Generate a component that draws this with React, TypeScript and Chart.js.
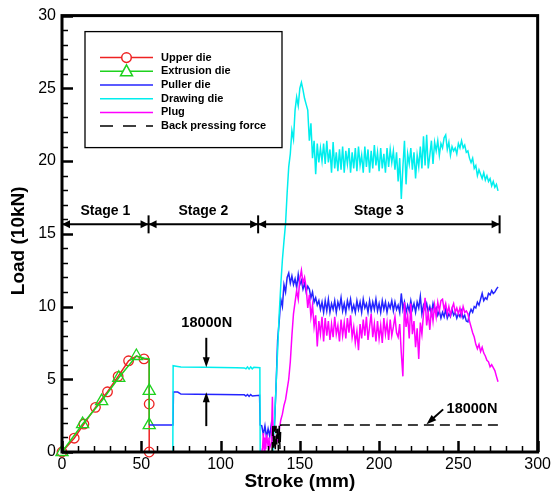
import React, { useEffect, useRef } from 'react';
import { Chart, registerables } from 'chart.js';

Chart.register(...registerables);

const FONT = "'Liberation Sans', Arial, Helvetica, sans-serif";

// ---------- series names ----------
const seriesNames = ['Upper die', 'Extrusion die', 'Puller die', 'Drawing die', 'Plug', 'Back pressing force'];
const seriesColors = ['#ee2222', '#1ed21e', '#2424ff', '#00eeee', '#ff00ff', '#000000'];

// ---------- Upper die (stage 1) ----------
const upperStroke = [0, 7.7, 13.8, 21.1, 28.7, 35.4, 42.0, 47.0, 51.7, 55.0, 55.0, 55.0];
const upperLoad = [0, 0.95, 1.92, 3.07, 4.14, 5.2, 6.27, 6.6, 6.4, 6.35, 3.3, 0];
const upperMarked = [1, 1, 1, 1, 1, 1, 1, 0, 1, 0, 1, 1];

// ---------- Extrusion die (stage 1) ----------
const extrStroke = [0, 13.0, 25.0, 35.8, 46.9, 52.0, 55.0, 55.0, 55.0];
const extrLoad = [0, 1.92, 3.5, 5.1, 6.6, 6.45, 6.4, 4.2, 1.85];
const extrMarked = [1, 1, 1, 1, 1, 0, 0, 1, 1];

// ---------- Puller die, stages 1-2 ----------
const pullerStroke = [55, 70, 70.3, 73, 75, 85, 100, 112, 115, 116, 117, 118, 119, 120, 124.6, 125, 126, 127, 128, 129, 130, 131, 132, 133, 134, 135];
const pullerLoad = [1.85, 1.85, 4.12, 4.12, 3.98, 3.97, 3.95, 3.93, 3.93, 3.85, 3.95, 3.82, 3.95, 3.85, 3.9, 1.85, 1.8, 1.2, 1.8, 1.0, 1.6, 1.1, 1.9, 1.3, 1.8, 4.5];

// ---------- Drawing die, stages 1-2 ----------
const drawingStroke = [69.9, 70.1, 72, 75, 90, 110, 115, 116, 117, 118, 119, 120, 121, 124.8, 125, 133, 134, 135];
const drawingLoad = [0, 5.93, 5.9, 5.85, 5.82, 5.8, 5.78, 5.72, 5.85, 5.7, 5.85, 5.72, 5.83, 5.8, 0, 0, 2.0, 4.5];

// ---------- Plug, start of stage 3 ----------
const plugStroke = [126, 126.5, 127, 127.5, 128, 128.5, 129, 130, 130.5, 131, 132, 132.7, 133.2, 134, 135];
const plugLoad = [0, 0.3, 1.3, 0.1, 1.0, 0.2, 1.2, 0.4, 1.0, 0.3, 0.6, 3.8, 0.5, 1.0, 0.6];

// ---------- Stage 3 readings, one per mm of stroke from 136 mm to 275 mm ----------
const stage3FirstStroke = 136;
const pullerStage3 = [
  7.7, 9.0, 10.5, 10.0, 11.5, 11.0, 12.0, 12.3, 11.6, 12.1,
  11.5, 11.9, 11.3, 12.2, 11.5, 11.8, 11.2, 11.6, 11.0, 11.4,
  11.2, 10.6, 11.0, 10.3, 10.6, 10.1, 10.4, 9.8, 10.3, 9.6,
  10.4, 9.7, 10.5, 9.6, 10.2, 9.8, 10.4, 9.6, 10.3, 9.9,
  10.6, 9.7, 10.2, 9.6, 10.4, 9.9, 10.5, 9.7, 10.1, 9.6,
  10.4, 9.8, 10.3, 9.6, 10.5, 9.9, 10.2, 9.6, 10.4, 9.7,
  10.3, 9.8, 10.5, 9.7, 10.2, 9.6, 10.4, 9.8, 10.3, 9.6,
  10.2, 9.9, 10.4, 9.7, 10.3, 9.8, 10.1, 9.6, 10.9, 9.8,
  10.3, 9.6, 10.1, 9.7, 10.4, 9.8, 10.2, 9.6, 10.3, 9.9,
  10.7, 9.5, 10.1, 9.8, 10.2, 9.6, 10.0, 9.5, 10.2, 9.7,
  9.9, 9.4, 9.7, 9.2, 9.6, 9.3, 9.8, 9.2, 9.5, 9.3,
  9.8, 9.4, 9.6, 9.2, 9.5, 9.3, 9.7, 9.2, 9.4, 9.0,
  8.95, 9.5, 9.8, 9.6, 10.0, 9.9, 10.3, 10.1, 10.5, 10.9,
  10.4, 10.6, 10.5, 10.9, 10.8, 11.1, 10.9, 11.0, 11.2, 11.35,
];
const drawingStage3 = [
  7.0, 9.5, 11.5, 13.2, 14.5, 15.7, 17.8, 19.6, 20.5, 22.1,
  21.5, 23.5, 24.4, 23.8, 25.0, 25.4, 24.9, 24.3, 23.9, 23.5,
  21.4, 22.6, 20.2, 21.4, 19.1, 21.2, 19.9, 20.9, 20.0, 21.2,
  19.8, 21.4, 19.9, 20.8, 19.2, 21.3, 19.5, 20.6, 19.3, 20.8,
  19.4, 21.0, 19.2, 20.7, 19.8, 20.9, 19.2, 20.6, 19.5, 20.9,
  19.3, 21.0, 19.7, 20.4, 19.2, 21.0, 19.6, 20.8, 19.2, 20.7,
  19.5, 21.1, 19.7, 20.6, 19.3, 20.9, 19.5, 20.5, 19.2, 20.9,
  19.6, 20.8, 19.9, 20.7, 19.4, 20.6, 18.6, 20.2, 17.4, 19.6,
  21.4, 18.4, 20.5, 19.8, 20.9, 19.4, 20.6, 18.8, 20.4, 19.6,
  21.0, 19.5, 21.7, 19.7, 21.8, 19.5, 20.4, 21.4, 19.8, 21.3,
  20.7, 21.4, 20.4, 21.2, 20.9, 21.6, 21.8, 20.8, 21.3, 20.4,
  21.0, 20.7, 20.9, 20.5, 21.2, 20.9, 21.4, 20.9, 21.1, 20.6,
  20.7, 20.2, 19.9, 20.2, 19.5, 19.7, 19.0, 19.4, 19.1, 18.8,
  19.2, 18.7, 19.0, 18.6, 18.8, 18.3, 18.6, 18.2, 18.4, 17.95,
];
const plugStage3 = [
  0.8, 1.5, 2.2, 2.6, 3.2, 3.6, 4.3, 5.0, 6.2, 8.0,
  9.5, 10.3, 11.1, 10.5, 11.9, 12.5, 11.6, 12.0, 11.3, 9.9,
  10.8, 9.3, 10.1, 8.6, 9.4, 7.25, 9.0, 8.1, 9.3, 7.6,
  9.2, 8.0, 9.0, 7.7, 8.8, 7.9, 9.3, 8.1, 8.7, 7.6,
  9.1, 8.0, 8.9, 7.8, 9.2, 8.2, 9.4, 7.9, 8.6, 7.5,
  8.3, 7.0, 8.8, 7.8, 9.1, 8.0, 9.3, 7.7, 8.6, 9.5,
  7.9, 8.8, 7.6, 9.0, 7.8, 8.7, 7.5, 9.2, 8.1, 8.9,
  7.7, 9.1, 8.0, 8.6, 9.3, 8.2, 7.9, 8.8, 6.8, 5.2,
  10.3, 8.6, 9.4, 7.8, 10.2, 8.1, 9.0, 7.2, 8.5, 6.4,
  8.9, 8.1, 9.5, 10.6, 8.7, 9.6, 8.4, 9.9, 9.0, 10.1,
  9.3, 10.3, 9.7, 10.4, 10.5, 9.8, 10.2, 9.5, 10.0, 9.4,
  9.9, 10.2, 9.6, 9.9, 9.5, 9.9, 9.4, 10.0, 9.6, 9.7,
  9.5, 9.0, 8.6, 8.2, 7.9, 7.4, 7.1, 7.4, 6.9, 7.2,
  6.8, 6.6, 6.3, 6.2, 5.85, 6.0, 5.8, 5.6, 5.2, 4.83,
];

// ---------- Back pressing force ----------
const backStroke = [132.5, 133, 133.5, 134, 134.5, 135, 135.5, 136, 136.5, 137, 137.5, 138, 275];
const backLoad = [0, 1.8, 0.3, 1.8, 0.1, 1.8, 0.5, 1.8, 0, 1.8, 0.2, 1.85, 1.85];

// ---------- Axes ----------
const xMin = 0, xMax = 300, xMajor = 50, xMinor = 10;
const yMin = 0, yMax = 30, yMajor = 5, yMinor = 1;
const xTitle = 'Stroke (mm)';
const yTitle = 'Load (10kN)';

// ---------- Annotations ----------
const stageNames = ['Stage 1', 'Stage 2', 'Stage 3'];
const stageBounds = [0, 54.6, 123.7, 276];
const stageLevel = 15.65;
const forceText = '18000N';

const pts = (xs: number[], ys: number[]) => xs.map((x, i) => ({ x, y: ys[i] }));
const stage3 = (ys: number[]) => ys.map((y, i) => ({ x: stage3FirstStroke + i, y }));

function arrowHead(ctx: CanvasRenderingContext2D, tx: number, ty: number, fx: number, fy: number, len: number, half: number) {
  let dx = tx - fx, dy = ty - fy;
  const d = Math.hypot(dx, dy) || 1;
  dx /= d; dy /= d;
  const bx = tx - dx * len, by = ty - dy * len;
  ctx.beginPath();
  ctx.moveTo(tx, ty);
  ctx.lineTo(bx - dy * half, by + dx * half);
  ctx.lineTo(bx + dy * half, by - dx * half);
  ctx.closePath();
  ctx.fill();
}

const decorPlugin = {
  id: 'decor',
  afterDraw(chart: any) {
    const { ctx, chartArea: a } = chart;
    const xs = chart.scales.x, ys = chart.scales.y;
    const X = (v: number) => xs.getPixelForValue(v);
    const Y = (v: number) => ys.getPixelForValue(v);
    ctx.save();
    ctx.strokeStyle = '#000';
    ctx.fillStyle = '#000';
    ctx.lineCap = 'butt';

    // ticks (inside)
    for (let v = xMin; v <= xMax; v += xMinor) {
      const major = v % xMajor === 0;
      ctx.lineWidth = major ? 2.5 : 1.5;
      const px = Math.round(X(v)) + 0.5;
      ctx.beginPath();
      ctx.moveTo(px, a.bottom);
      ctx.lineTo(px, a.bottom - (major ? 11 : 6));
      ctx.stroke();
    }
    for (let v = yMin; v <= yMax; v += yMinor) {
      const major = v % yMajor === 0;
      ctx.lineWidth = major ? 2.5 : 1.5;
      const py = Math.round(Y(v)) + 0.5;
      ctx.beginPath();
      ctx.moveTo(a.left, py);
      ctx.lineTo(a.left + (major ? 11 : 6), py);
      ctx.stroke();
    }
    // frame
    ctx.lineWidth = 3;
    ctx.strokeRect(a.left, a.top, a.right - a.left, a.bottom - a.top);

    // stage bar
    const sy = Y(stageLevel);
    ctx.lineWidth = 2;
    ctx.beginPath();
    ctx.moveTo(X(stageBounds[0]), sy);
    ctx.lineTo(X(stageBounds[stageBounds.length - 1]), sy);
    ctx.stroke();
    for (let i = 1; i < stageBounds.length; i++) {
      const bx = X(stageBounds[i]);
      ctx.beginPath();
      ctx.moveTo(bx, sy - 9);
      ctx.lineTo(bx, sy + 9);
      ctx.stroke();
    }
    for (let i = 0; i < stageNames.length; i++) {
      const l = X(stageBounds[i]), r = X(stageBounds[i + 1]);
      arrowHead(ctx, l, sy, l + 10, sy, 8, 4);
      arrowHead(ctx, r, sy, r - 10, sy, 8, 4);
    }
    ctx.font = `bold 14px ${FONT}`;
    ctx.textAlign = 'center';
    ctx.textBaseline = 'middle';
    for (let i = 0; i < stageNames.length; i++) {
      const c = (X(stageBounds[i]) + X(stageBounds[i + 1])) / 2;
      ctx.fillText(stageNames[i], c, sy - 13);
    }

    // 18000N annotations
    ctx.font = `bold 14.5px ${FONT}`;
    ctx.fillText(forceText, X(91.3), Y(8.85));
    ctx.fillText(forceText, X(258.6), Y(2.95));
    ctx.lineWidth = 2;
    const arrows = [
      [91, 7.85, 91, 5.82],
      [91, 1.78, 91, 4.1],
      [240.4, 2.93, 229.9, 1.9],
    ];
    for (const [x0, y0, x1, y1] of arrows) {
      const fx = X(x0), fy = Y(y0), tx = X(x1), ty = Y(y1);
      const d = Math.hypot(tx - fx, ty - fy);
      const ex = tx - ((tx - fx) / d) * 6, ey = ty - ((ty - fy) / d) * 6;
      ctx.beginPath();
      ctx.moveTo(fx, fy);
      ctx.lineTo(ex, ey);
      ctx.stroke();
      arrowHead(ctx, tx, ty, fx, fy, 10, 3.5);
    }

    // legend
    const lx = a.left + 23, ly = a.top + 16, lw = 197, lh = 116;
    ctx.lineWidth = 1.3;
    ctx.fillStyle = '#fff';
    ctx.fillRect(lx, ly, lw, lh);
    ctx.strokeRect(lx, ly, lw, lh);
    ctx.font = `bold 11px ${FONT}`;
    ctx.textAlign = 'left';
    for (let i = 0; i < seriesNames.length; i++) {
      const ry = ly + 26 + i * 13.7;
      const x0 = lx + 15, x1 = lx + 68, mx = (x0 + x1) / 2;
      ctx.strokeStyle = seriesColors[i];
      ctx.lineWidth = 1.5;
      ctx.setLineDash(i === 5 ? [13, 10] : []);
      ctx.beginPath();
      ctx.moveTo(x0, ry);
      ctx.lineTo(x1, ry);
      ctx.stroke();
      ctx.setLineDash([]);
      if (i === 0) {
        ctx.fillStyle = '#fff';
        ctx.beginPath();
        ctx.arc(mx, ry, 4.8, 0, Math.PI * 2);
        ctx.fill();
        ctx.stroke();
      } else if (i === 1) {
        ctx.fillStyle = '#fff';
        ctx.beginPath();
        ctx.moveTo(mx, ry - 6.5);
        ctx.lineTo(mx + 6, ry + 4.5);
        ctx.lineTo(mx - 6, ry + 4.5);
        ctx.closePath();
        ctx.fill();
        ctx.stroke();
      }
      ctx.fillStyle = '#000';
      ctx.fillText(seriesNames[i], lx + 76, ry);
    }

    // axis titles
    ctx.fillStyle = '#000';
    ctx.font = `bold 19px ${FONT}`;
    ctx.textAlign = 'center';
    ctx.textBaseline = 'middle';
    ctx.fillText(xTitle, (a.left + a.right) / 2, a.bottom + 30);
    ctx.save();
    ctx.translate(a.left - 43, (a.top + a.bottom) / 2 + 7);
    ctx.rotate(-Math.PI / 2);
    ctx.fillText(yTitle, 0, 0);
    ctx.restore();

    ctx.restore();
  },
};

export default function App() {
  const ref = useRef<HTMLCanvasElement>(null);
  useEffect(() => {
    if (!ref.current) return;
    const lineBase = { borderWidth: 1.5, pointRadius: 0, fill: false, tension: 0 };
    const chart = new Chart(ref.current, {
      type: 'line',
      data: {
        datasets: [
          { ...lineBase, label: seriesNames[5], data: pts(backStroke, backLoad), borderColor: seriesColors[5], borderDash: [10, 6] },
          { ...lineBase, label: seriesNames[4], data: [...pts(plugStroke, plugLoad), ...stage3(plugStage3)], borderColor: seriesColors[4] },
          { ...lineBase, label: seriesNames[3], data: [...pts(drawingStroke, drawingLoad), ...stage3(drawingStage3)], borderColor: seriesColors[3] },
          { ...lineBase, label: seriesNames[2], data: [...pts(pullerStroke, pullerLoad), ...stage3(pullerStage3)], borderColor: seriesColors[2] },
          {
            ...lineBase, label: seriesNames[1], data: pts(extrStroke, extrLoad), borderColor: seriesColors[1],
            pointStyle: 'triangle', pointRadius: extrMarked.map((m) => (m ? 7 : 0)), pointBorderColor: seriesColors[1],
            pointBackgroundColor: 'rgba(0,0,0,0)', pointBorderWidth: 1.3, clip: false,
          },
          {
            ...lineBase, label: seriesNames[0], data: pts(upperStroke, upperLoad), borderColor: seriesColors[0],
            pointStyle: 'circle', pointRadius: upperMarked.map((m) => (m ? 4.8 : 0)), pointBorderColor: seriesColors[0],
            pointBackgroundColor: 'rgba(0,0,0,0)', pointBorderWidth: 1.3, clip: false,
          },
        ] as any,
      },
      options: {
        responsive: false,
        animation: false,
        events: [],
        layout: { padding: { left: 0, right: 14, top: 15, bottom: 0 } },
        plugins: { legend: { display: false }, tooltip: { enabled: false }, title: { display: false } },
        scales: {
          x: {
            type: 'linear', min: xMin, max: xMax,
            ticks: { stepSize: xMajor, color: '#000', font: { family: FONT, size: 16 }, padding: 3, maxRotation: 0, autoSkip: false },
            grid: { display: false, drawTicks: false },
            border: { display: false },
            afterFit: (s: any) => { s.height = 43; },
          },
          y: {
            type: 'linear', min: yMin, max: yMax,
            ticks: { stepSize: yMajor, color: '#000', font: { family: FONT, size: 16 }, padding: 6 },
            grid: { display: false, drawTicks: false },
            border: { display: false },
            afterFit: (s: any) => { s.width = 62; },
          },
        },
      } as any,
      plugins: [decorPlugin],
    });
    return () => chart.destroy();
  }, []);
  return (
    <div style={{ position: 'absolute', left: 0, top: 0, width: 554, height: 495 }}>
      <canvas ref={ref} width={554} height={495} style={{ display: 'block' }} />
    </div>
  );
}
